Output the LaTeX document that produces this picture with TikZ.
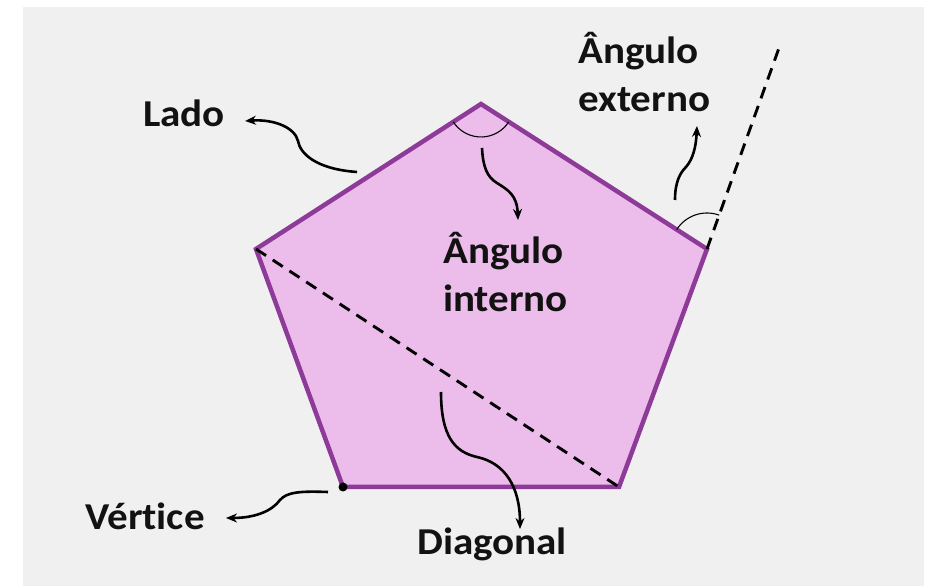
\documentclass[tikz,border=0pt]{standalone}
\usepackage{fontspec}
\setmainfont{Carlito}[Ligatures=NoCommon,FakeStretch=1.08]
\usetikzlibrary{arrows.meta}
\definecolor{penta}{RGB}{236,188,234}
\definecolor{pentaline}{RGB}{142,58,152}
\definecolor{paper}{RGB}{240,240,240}
\begin{document}
\begin{tikzpicture}[x=1pt,y=1pt,
    lbl/.style={anchor=base west,inner sep=0pt,align=left,
      font=\fontsize{38}{48}\selectfont\bfseries,text=black!93},
    pointer/.style={line width=2.6pt,-{Stealth[length=11pt,width=9pt]}},
    guide/.style={line width=2.9pt,dash pattern=on 12pt off 8pt},
    anglemark/.style={line width=1.1pt}]
                \useasboundingbox (0,0) rectangle (930,587);
                \fill[paper] (23,1) rectangle (924,580);
                \coordinate (T) at (481,483);
                \coordinate (R) at (707,338);
                \coordinate (BR) at (619,100);
                \coordinate (BL) at (343,100);
                \coordinate (L) at (256,338);
                \coordinate (X) at (779,539);
                \filldraw[fill=penta,draw=pentaline,line width=4.5pt,line join=miter]
                    (T) -- (R) -- (BR) -- (BL) -- (L) -- cycle;
                \draw[guide] (L) -- (BR);
                \draw[guide] (R) -- (X);
                \draw[anglemark] ([shift={(212.8:33)}]T) arc[start angle=212.8,end angle=327.3,radius=33];
                \draw[anglemark] ([shift={(70.3:36)}]R) arc[start angle=70.3,end angle=147.3,radius=36];
                \fill (BL) circle (4.5);
                \node[lbl] (lado) at (143,460) {Lado};
                \node[lbl] (ext) at (578,475) {Ângulo\\externo};
                \node[lbl] (int) at (443,275) {Ângulo\\interno};
                \node[lbl] (diag) at (417,32) {Diagonal};
                \node[lbl] (vert) at (85,57) {Vértice};
                \coordinate (ladoA) at (357,415);
                \coordinate (ladoB) at (245,466);
                \coordinate (intA) at (482,439);
                \coordinate (intB) at (518,367);
                \coordinate (extA) at (675,387);
                \coordinate (extB) at (697,461);
                \coordinate (diagA) at (441,195);
                \coordinate (diagB) at (520,58);
                \coordinate (vertA) at (328,95);
                \coordinate (vertB) at (226,69);
                \draw[pointer] (ladoA) .. controls (315,418) and (300,434) .. (298,446)
                    .. controls (295,459) and (275,468) .. (ladoB);
                \draw[pointer] (intA) .. controls (483,420) and (487,410) .. (497,404)
                    .. controls (508,397) and (517,392) .. (intB);
                \draw[pointer] (extA) .. controls (675,405) and (680,414) .. (686,420)
                    .. controls (693,428) and (696,440) .. (extB);
                \draw[pointer] (diagA) .. controls (441,150) and (455,135) .. (477,130)
                    .. controls (505,124) and (520,100) .. (diagB);
                \draw[pointer] (vertA) .. controls (300,96) and (287,95) .. (280,87)
                    .. controls (272,76) and (255,69) .. (vertB);
            \end{tikzpicture}
\end{document}
